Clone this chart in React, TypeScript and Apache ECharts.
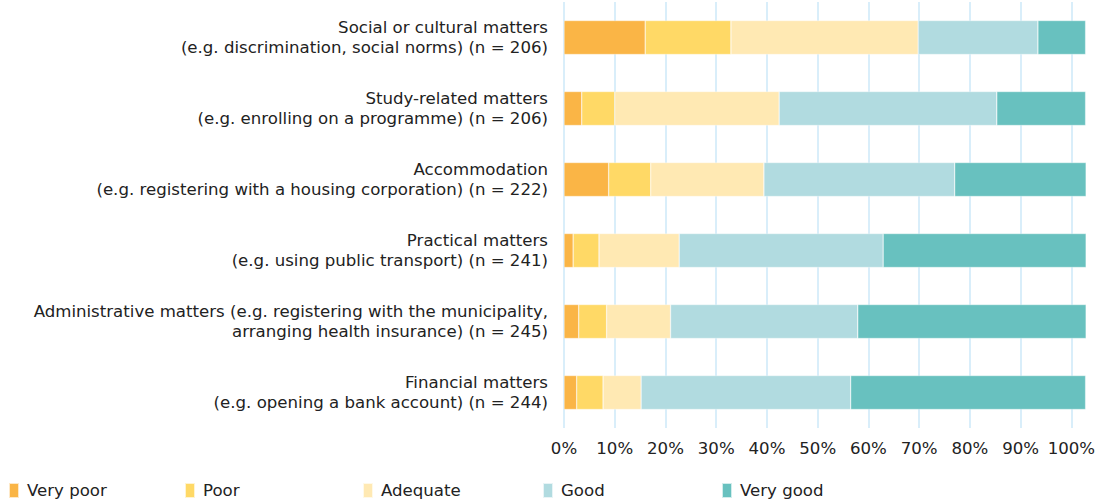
import React, { useEffect, useRef } from "react";
import * as echarts from "echarts";

const categories = [
  "Social or cultural matters\n(e.g. discrimination, social norms) (n = 206)",
  "Study-related matters\n(e.g. enrolling on a programme) (n = 206)",
  "Accommodation\n(e.g. registering with a housing corporation) (n = 222)",
  "Practical matters\n(e.g. using public transport) (n = 241)",
  "Administrative matters (e.g. registering with the municipality,\narranging health insurance) (n = 245)",
  "Financial matters\n(e.g. opening a bank account) (n = 244)",
];

const seriesNames = ["Very poor", "Poor", "Adequate", "Good", "Very good"];
const veryPoor = [16.0, 3.5, 8.8, 1.8, 2.9, 2.5];
const poor = [16.9, 6.5, 8.3, 5.1, 5.5, 5.2];
const adequate = [36.9, 32.4, 22.3, 15.8, 12.6, 7.5];
const good = [23.6, 42.9, 37.6, 40.2, 36.9, 41.3];
const veryGood = [9.4, 17.5, 25.9, 40.0, 45.0, 46.3];
const colors = ["#FAB546", "#FFD966", "#FFE9B3", "#B1DBE0", "#68C1BF"];
const tickValues = [0, 10, 20, 30, 40, 50, 60, 70, 80, 90, 100];
const legendLefts = [8, 184, 362, 542, 721];

const FONT = "'DejaVu Sans', sans-serif";
const TEXT = "#222";
const FS = 16.6;

export default function App() {
  const ref = useRef<HTMLDivElement>(null);
  useEffect(() => {
    document.body.style.margin = "0";
    const chart = echarts.init(ref.current!, null, { renderer: "svg" });
    const values = [veryPoor, poor, adequate, good, veryGood];
    chart.setOption({
      animation: false,
      textStyle: { fontFamily: FONT },
      grid: { left: 564, right: 29.6, top: 2, bottom: 73, containLabel: false },
      legend: seriesNames.map((name, i) => ({
        data: [name],
        left: legendLefts[i],
        top: 482,
        padding: 0,
        icon: "rect",
        itemWidth: 10,
        itemHeight: 15,
        selectedMode: false,
        textStyle: { fontSize: FS, color: TEXT, fontFamily: FONT, padding: [0, 0, 0, 3] },
      })),
      xAxis: {
        type: "value",
        min: tickValues[0],
        max: tickValues[tickValues.length - 1],
        interval: 10,
        axisLine: { show: false },
        axisTick: { show: false },
        axisLabel: { formatter: "{value}%", fontSize: FS, color: TEXT, margin: 12, fontFamily: FONT },
        splitLine: { show: true, lineStyle: { color: "#cde8f8", width: 1.5 } },
      },
      yAxis: {
        type: "category",
        data: categories,
        inverse: true,
        axisLine: { show: false },
        axisTick: { show: false },
        axisLabel: {
          fontSize: FS,
          color: TEXT,
          margin: 16,
          lineHeight: 20,
          align: "right",
          padding: [0, 0, 3, 0],
          fontFamily: FONT,
        },
      },
      series: seriesNames.map((name, i) => ({
        name,
        type: "bar",
        stack: "total",
        barWidth: 34,
        clip: false,
        data: values[i],
        itemStyle: { color: colors[i], borderColor: "rgba(255,255,255,0.7)", borderWidth: 0.5 },
        emphasis: { disabled: true },
      })),
    });
    return () => chart.dispose();
  }, []);
  return <div ref={ref} style={{ width: 1101, height: 501 }} />;
}
